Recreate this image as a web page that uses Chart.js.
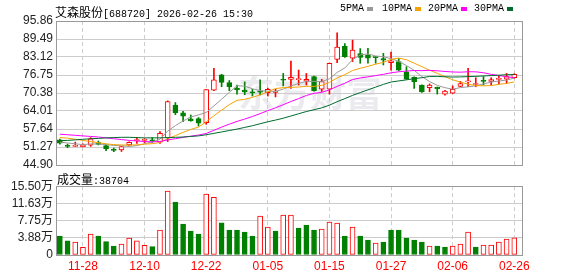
<!DOCTYPE html>
<html>
<head>
<meta charset="utf-8">
<script src="https://cdn.jsdelivr.net/npm/chart.js@4.4.1/dist/chart.umd.min.js"></script>
<style>
    body { margin: 0; background: #fff; width: 578px; height: 276px; overflow: hidden; position: relative; }
    canvas { position: absolute; left: 0; }
    #kline { top: 0; }
    #vol { top: 176px; }
    .txt { position: absolute; white-space: nowrap; color: #000; line-height: 14px; z-index: 2; }
    .cjk { font: 12px 'Noto Sans CJK SC', sans-serif; }
    .mono { font: 10px 'Liberation Mono', monospace; }
    .sq { position: absolute; top: 7px; width: 6px; height: 4px; }
</style>
</head>
<body>
<div class="txt" style="left:55px;top:3px"><span class="cjk">艾森股份</span><span class="mono">[688720] 2026-02-26 15:30</span></div>
<div class="txt mono" style="left:340px;top:3px">5PMA</div><div class="sq" style="left:367px;background:#999"></div>
<div class="txt mono" style="left:382px;top:3px">10PMA</div><div class="sq" style="left:415px;background:#f5a200"></div>
<div class="txt mono" style="left:428px;top:3px">20PMA</div><div class="sq" style="left:461px;background:#ff00ff"></div>
<div class="txt mono" style="left:474px;top:3px">30PMA</div><div class="sq" style="left:507px;background:#006b2e"></div>
<div class="txt" style="left:57px;top:170px"><span class="cjk">成交量</span><span class="mono">:38704</span></div>
<canvas id="kline" width="578" height="180"></canvas>
<canvas id="vol" width="578" height="100"></canvas>
<script>
// trading days, 2025-11-25 .. 2026-02-26
const dates = ['11-25', '11-26', '11-27', '11-28', '12-01', '12-02', '12-03', '12-04', '12-05', '12-08',
    '12-09', '12-10', '12-11', '12-12', '12-15', '12-16', '12-17', '12-18', '12-19', '12-22',
    '12-23', '12-24', '12-25', '12-26', '12-29', '12-30', '12-31', '01-05', '01-06', '01-07',
    '01-08', '01-09', '01-12', '01-13', '01-14', '01-15', '01-16', '01-19', '01-20', '01-21',
    '01-22', '01-23', '01-26', '01-27', '01-28', '01-29', '01-30', '02-02', '02-03', '02-04',
    '02-05', '02-06', '02-09', '02-10', '02-11', '02-12', '02-13', '02-24', '02-25', '02-26'];
const tickIdx = [3, 11, 19, 27, 35, 43, 51, 59];

const opens = [53.8, 51.7, 51.5, 51.4, 51.9, 52.8, 51.8, 50.3, 50.2, 52.0,
    53.5, 53.6, 53.8, 53.0, 54.5, 66.1, 63.4, 61.2, 61.3, 59.9,
    71.4, 76.8, 74.1, 72.1, 71.4, 70.6, 70.9, 70.5, 70.6, 75.1,
    75.2, 75.1, 74.6, 76.2, 71.7, 71.7, 82.3, 86.9, 82.7, 84.3,
    83.8, 83.1, 82.6, 81.1, 81.5, 77.9, 75.9, 73.2, 72.3, 72.4,
    70.0, 70.3, 72.7, 74.3, 73.4, 74.7, 74.5, 75.2, 75.3, 75.8];
const highs = [54.1, 52.3, 53.0, 52.4, 54.6, 53.4, 52.0, 50.9, 51.5, 53.1,
    54.6, 54.3, 54.6, 56.7, 67.6, 67.0, 63.9, 62.6, 61.7, 71.6,
    79.1, 77.0, 74.8, 73.2, 74.3, 71.7, 75.0, 72.1, 71.7, 77.3,
    81.7, 78.5, 77.3, 76.4, 75.2, 81.0, 91.7, 87.9, 89.1, 86.1,
    86.2, 83.3, 84.4, 84.9, 82.6, 79.7, 76.1, 73.3, 73.6, 72.5,
    71.3, 72.9, 74.5, 79.1, 75.8, 76.2, 75.8, 76.5, 77.3, 77.2];
const lows = [52.3, 51.0, 51.4, 51.3, 51.5, 52.0, 50.0, 49.6, 49.7, 51.8,
    52.5, 52.8, 52.9, 52.5, 53.2, 62.7, 60.2, 60.4, 58.7, 59.3,
    71.2, 72.6, 71.2, 70.0, 69.8, 69.3, 69.7, 69.3, 69.0, 72.9,
    72.0, 73.2, 73.2, 71.0, 70.9, 70.0, 81.1, 83.0, 81.5, 80.9,
    80.9, 80.9, 80.3, 78.5, 78.3, 75.2, 72.0, 70.6, 70.8, 70.0,
    69.6, 70.2, 72.6, 72.6, 72.6, 73.2, 73.2, 73.5, 73.8, 75.6];
const closes = [52.6, 51.5, 51.7, 51.9, 54.2, 52.2, 50.7, 50.1, 51.4, 52.9,
    53.7, 54.0, 53.4, 56.1, 67.3, 63.4, 62.2, 60.5, 59.7, 71.6,
    75.0, 74.1, 72.6, 71.5, 70.8, 70.4, 70.7, 71.7, 71.1, 74.9,
    75.9, 75.3, 75.2, 71.2, 74.4, 80.9, 86.6, 83.2, 85.6, 83.0,
    82.7, 82.9, 82.0, 81.8, 78.5, 75.3, 74.4, 70.8, 73.2, 71.8,
    71.1, 71.7, 73.7, 74.5, 73.6, 74.5, 75.1, 75.4, 76.2, 77.0];

const ma5 = [53.0, 52.7, 52.4, 52.1, 52.38, 52.3, 52.14, 51.82, 51.72, 51.46,
    51.76, 52.42, 53.08, 54.02, 56.9, 58.84, 60.48, 61.9, 62.62, 63.48,
    65.8, 68.18, 70.6, 72.96, 72.8, 71.88, 71.2, 71.02, 70.94, 71.76,
    72.86, 73.78, 74.48, 74.5, 74.4, 75.4, 77.66, 79.26, 82.14, 83.86,
    84.22, 83.48, 83.24, 82.48, 81.58, 80.1, 78.4, 76.16, 74.44, 73.1,
    72.26, 71.72, 72.3, 72.56, 72.92, 73.6, 74.28, 74.62, 74.96, 75.64];
const ma10 = [54.6, 54.4, 54.0, 53.6, 53.2, 52.8, 52.4, 52.1, 52.0, 51.92,
    52.03, 52.28, 52.45, 52.87, 54.18, 55.3, 56.45, 57.49, 58.32, 60.19,
    62.32, 64.33, 66.25, 67.79, 68.14, 68.84, 69.69, 70.81, 71.95, 72.28,
    72.37, 72.49, 72.75, 72.72, 73.08, 74.13, 75.72, 76.87, 78.32, 79.13,
    79.81, 80.57, 81.25, 82.31, 82.72, 82.16, 80.94, 79.7, 78.46, 77.34,
    76.18, 75.06, 74.23, 73.5, 73.01, 72.93, 73.0, 73.46, 73.76, 74.28];
const ma20 = [55.8, 55.6, 55.4, 55.2, 55.0, 54.8, 54.5, 54.2, 53.9, 53.6,
    53.4, 53.2, 53.1, 53.2, 53.8, 54.2, 54.7, 55.1, 55.5, 56.06,
    57.18, 58.31, 59.35, 60.33, 61.16, 62.07, 63.07, 64.15, 65.14, 66.24,
    67.35, 68.41, 69.5, 70.26, 70.61, 71.49, 72.71, 73.84, 75.14, 75.71,
    76.09, 76.53, 77.0, 77.52, 77.9, 78.15, 78.33, 78.29, 78.39, 78.24,
    78.0, 77.82, 77.74, 77.91, 77.87, 77.55, 76.97, 76.58, 76.11, 75.81];
const ma30 = [53.5, 53.6, 53.8, 54.0, 54.2, 54.3, 54.5, 54.6, 54.7, 54.7,
    54.6, 54.5, 54.5, 54.5, 54.6, 54.7, 54.8, 55.0, 55.2, 55.6,
    56.1, 56.6, 57.1, 57.6, 58.2, 58.8, 59.5, 60.2, 60.8, 61.46,
    62.24, 63.03, 63.82, 64.46, 65.13, 66.09, 67.29, 68.39, 69.53, 70.53,
    71.5, 72.46, 73.42, 74.27, 74.65, 75.04, 75.45, 75.79, 76.24, 76.25,
    76.12, 76.04, 76.08, 76.18, 76.27, 76.41, 76.55, 76.68, 76.85, 76.92];

// volume, unit 万
const volumes = [4.27, 3.22, 2.92, 1.72, 4.72, 4.27, 3.0, 2.02, 2.47, 3.82,
    3.22, 2.17, 1.87, 5.62, 14.38, 11.9, 6.96, 5.39, 4.72, 13.7,
    13.0, 7.26, 5.62, 5.62, 5.17, 4.27, 8.76, 6.29, 5.39, 8.99,
    8.99, 6.06, 6.74, 5.62, 5.84, 7.41, 7.19, 4.27, 6.29, 4.27,
    3.37, 2.7, 2.92, 5.62, 5.62, 3.82, 3.37, 2.92, 2.02, 2.02,
    1.8, 2.02, 2.47, 5.17, 1.8, 2.25, 2.25, 2.92, 3.59, 3.87];

const priceTicks = [44.90, 51.27, 57.64, 64.01, 70.38, 76.75, 83.12, 89.49, 95.86];
const volTicks = [0, 3.88, 7.75, 11.63, 15.50];

const RED = '#ff0000';
const GREEN = '#008000';
const GRID = '#cccccc';
const LABEL_FONT = { size: 12, family: "'Liberation Sans', 'Noto Sans CJK SC', sans-serif" };

// candle colour: close vs open, volume colour: close vs previous close
const candleUp = closes.map((c, i) => c >= opens[i]);
const volUp = closes.map((c, i) => i === 0 ? c >= opens[0] : c >= closes[i - 1]);

// grey box round the plot area
const framePlugin = {
    id: 'frame',
    afterDraw(chart) {
        const a = chart.chartArea;
        const ctx = chart.ctx;
        ctx.save();
        ctx.strokeStyle = '#999';
        ctx.lineWidth = 1;
        ctx.strokeRect(Math.round(a.left) + 0.5, Math.round(a.top) + 0.5,
            Math.round(a.right - a.left), Math.round(a.bottom - a.top));
        ctx.restore();
    }
};

const watermarkPlugin = {
    id: 'watermark',
    beforeDatasetsDraw(chart) {
        const ctx = chart.ctx;
        ctx.save();
        ctx.fillStyle = 'rgba(205, 205, 215, 0.4)';
        ctx.font = "bold 36px 'Noto Sans CJK SC', sans-serif";
        ctx.textBaseline = 'middle';
        ctx.fillText('东方财富', 238, 93);
        ctx.restore();
    }
};

const xScale = (showLabels, h) => ({
    type: 'linear',
    min: -0.5,
    max: 60,
    offset: false,
    afterBuildTicks: s => { s.ticks = tickIdx.map(v => ({ value: v })); },
    afterFit: s => { s.height = h; },
    ticks: {
        display: showLabels,
        autoSkip: false,
        maxRotation: 0,
        padding: 4,
        color: RED,
        font: LABEL_FONT,
        callback: v => dates[v]
    },
    grid: { color: GRID, drawTicks: false, offset: false },
    border: { display: false, dash: [4, 3] }
});

const yScale = (min, max, ticks, fmt) => ({
    min: min,
    max: max,
    afterBuildTicks: s => { s.ticks = ticks.map(v => ({ value: v })); },
    afterFit: s => { s.width = 56; },
    ticks: { padding: 3, autoSkip: false, color: '#222', font: LABEL_FONT, callback: fmt },
    grid: { color: GRID, drawTicks: false },
    border: { display: false }
});

const maLine = (data, color) => ({
    type: 'line',
    data: data.map((v, i) => ({ x: i, y: v })),
    borderColor: color,
    borderWidth: 1,
    pointRadius: 0,
    tension: 0,
    order: 1
});

new Chart(document.getElementById('kline'), {
    type: 'bar',
    data: {
        datasets: [{
            // wick
            data: lows.map((l, i) => ({ x: i, y: [l, highs[i]] })),
            backgroundColor: candleUp.map(u => u ? RED : GREEN),
            barThickness: 1,
            grouped: false,
            order: 4
        }, {
            // body
            data: opens.map((o, i) => ({ x: i, y: [o, closes[i]] })),
            backgroundColor: candleUp.map(u => u ? '#ffffff' : GREEN),
            borderColor: candleUp.map(u => u ? RED : GREEN),
            borderWidth: 1,
            borderSkipped: false,
            minBarLength: 1,
            barThickness: 5,
            grouped: false,
            order: 3
        },
        maLine(ma30, '#006b2e'),
        maLine(ma20, '#ff00ff'),
        maLine(ma10, '#f5a200'),
        maLine(ma5, '#999999')]
    },
    options: {
        responsive: false,
        animation: false,
        layout: { padding: { left: 0, right: 56, top: 21, bottom: 15 } },
        plugins: { legend: { display: false }, tooltip: { enabled: false } },
        scales: {
            x: xScale(false, 0),
            y: yScale(44.90, 95.86, priceTicks, v => v.toFixed(2))
        }
    },
    plugins: [watermarkPlugin, framePlugin]
});

new Chart(document.getElementById('vol'), {
    type: 'bar',
    data: {
        datasets: [{
            data: volumes.map((v, i) => ({ x: i, y: v })),
            backgroundColor: volUp.map(u => u ? '#ffffff' : GREEN),
            borderColor: volUp.map(u => u ? RED : GREEN),
            borderWidth: 1,
            borderSkipped: false,
            barThickness: 5,
            grouped: false
        }]
    },
    options: {
        responsive: false,
        animation: false,
        layout: { padding: { left: 0, right: 56, top: 10, bottom: 0 } },
        plugins: { legend: { display: false }, tooltip: { enabled: false } },
        scales: {
            x: xScale(true, 21),
            y: yScale(0, 15.5, volTicks, v => v === 0 ? '0' : v.toFixed(2) + '万')
        }
    },
    plugins: [framePlugin]
});
</script>
</body>
</html>
